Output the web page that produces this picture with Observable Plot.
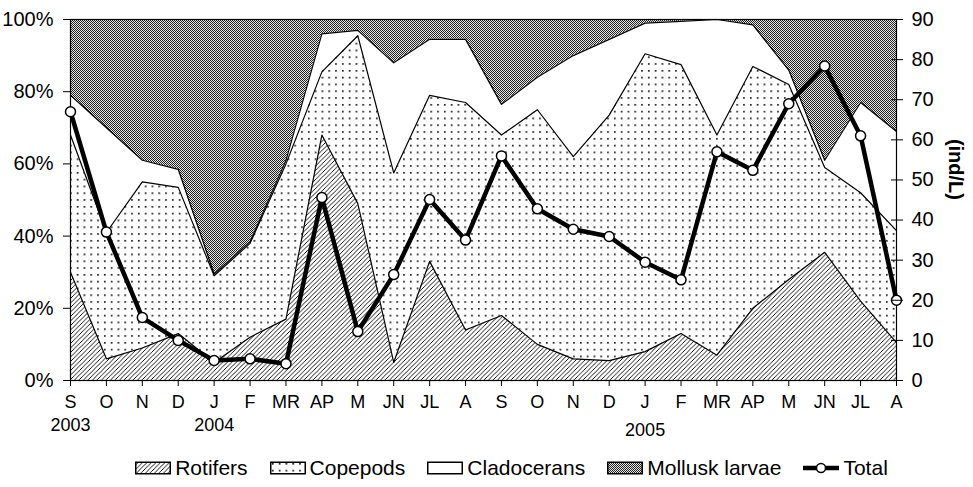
<!DOCTYPE html>
<html><head><meta charset="utf-8">
<script src="https://cdn.jsdelivr.net/npm/d3@7"></script>
<script src="https://cdn.jsdelivr.net/npm/@observablehq/plot@0.6"></script>
<style>
body{margin:0;background:#fff;font-family:"Liberation Sans",Arial,sans-serif;}
#legend{display:flex;justify-content:center;align-items:center;height:39px;font-size:21px;color:#000;padding-left:50px;}
#legend .item{display:flex;align-items:center;margin:0 11px;}
#legend svg{margin-right:4px;}
</style></head><body>
<svg width="0" height="0" style="position:absolute"><defs>
<pattern id="hatch" patternUnits="userSpaceOnUse" width="4.5" height="4.5"><rect width="4.5" height="4.5" fill="#fff"/><path d="M-1,1l2,-2M0,4.5l4.5,-4.5M3.5,5.5l2,-2" stroke="#000" stroke-width="0.9"/></pattern>
<pattern id="dots" patternUnits="userSpaceOnUse" width="6.8" height="6.8"><rect width="6.8" height="6.8" fill="#fff"/><rect x="2" y="2" width="1.6" height="1.6" fill="#000"/></pattern>
<pattern id="checker" patternUnits="userSpaceOnUse" width="2" height="2"><rect width="2" height="2" fill="#e6e6e6"/><rect width="1" height="1" fill="#222"/><rect x="1" y="1" width="1" height="1" fill="#222"/></pattern>
</defs></svg>
<div id="chart"></div>
<div id="legend"></div>
<script>
const months = ["S","O","N","D","J","F","MR","AP","M","JN","JL","A","S","O","N","D","J","F","MR","AP","M","JN","JL","A"];
const yearLabels = ["2003","2004","2005"];
const yearIndex = [0,4,16];
// composition (%) of each group
const rotifers    = [30, 6, 9, 13, 5, 12, 17, 68, 49, 5, 33, 14, 18, 10, 6, 5.5, 8, 13, 7, 20, 28, 35.5, 22, 10.5];
const copepods    = [38, 35, 46, 40.5, 24, 26, 43, 17.5, 46.5, 52.5, 46, 63, 50, 65, 56, 68, 82.5, 74.5, 61, 67, 54, 23.5, 30, 31];
const cladocerans = [11, 29, 6, 5, 0.5, 0.5, 1, 10.5, 1.5, 30.5, 15.5, 17.5, 8.5, 9, 28, 21, 8.5, 12, 32, 11.5, 4, 2, 25, 27.5];
const mollusk     = [21, 30, 39, 41.5, 70.5, 61.5, 39, 4, 3, 12, 5.5, 5.5, 23.5, 16, 10, 5.5, 1, 0.5, 0, 1.5, 14, 39, 23, 31];
// total density (ind/L)
const total = [67, 37, 15.7, 10, 5, 5.4, 4.2, 45.6, 12.2, 26.4, 45.1, 35, 56, 42.8, 37.7, 35.9, 29.5, 25.1, 57, 52.4, 69, 78.4, 61, 20];
const pctTicks = [0,20,40,60,80,100];
const rightTicks = [0,10,20,30,40,50,60,70,80,90];
const totalMax = 90;

const rows = months.map((m, i) => {
  const r = rotifers[i];
  const c = r + copepods[i];
  const l = c + cladocerans[i];
  const t = l + mollusk[i];
  return {i, m, r, c, l, t, total: total[i] * 100 / totalMax};
});
const years = yearLabels.map((label, k) => ({i: yearIndex[k], label}));

const chart = Plot.plot({
  width: 973, height: 448,
  marginTop: 19, marginBottom: 68, marginLeft: 70, marginRight: 77,
  style: {fontFamily: "Liberation Sans, Arial, sans-serif", fontSize: "20px", background: "white", color: "black"},
  x: {domain: [0, 23], label: null},
  y: {domain: [0, 100], label: null},
  marks: [
    Plot.areaY(rows, {x: "i", y1: 0, y2: "r", fill: "url(#hatch)"}),
    Plot.areaY(rows, {x: "i", y1: "r", y2: "c", fill: "url(#dots)"}),
    Plot.areaY(rows, {x: "i", y1: "c", y2: "l", fill: "white"}),
    Plot.areaY(rows, {x: "i", y1: "l", y2: "t", fill: "url(#checker)"}),
    Plot.lineY(rows, {x: "i", y: "r", stroke: "black", strokeWidth: 1.2}),
    Plot.lineY(rows, {x: "i", y: "c", stroke: "black", strokeWidth: 1.2}),
    Plot.lineY(rows, {x: "i", y: "l", stroke: "black", strokeWidth: 1.2}),
    Plot.frame({stroke: "black", strokeWidth: 1.2}),
    Plot.lineY(rows, {x: "i", y: "total", stroke: "black", strokeWidth: 4.5, strokeLinejoin: "round"}),
    Plot.dot(rows, {x: "i", y: "total", r: 5, fill: "white", stroke: "black", strokeWidth: 1.5}),
    Plot.axisX({ticks: d3.range(24), tickFormat: i => months[i], tickSize: 6, tickPadding: 9, fontSize: 18, label: null}),
    Plot.axisY({anchor: "left", ticks: pctTicks, tickFormat: d => d + "%", tickSize: 7, tickPadding: 10, label: null}),
    Plot.axisY({anchor: "right", ticks: rightTicks.map(v => v * 100 / totalMax), tickFormat: d => Math.round(d * totalMax / 100), tickSize: 6, tickPadding: 9, label: null}),
    Plot.axisY({anchor: "right", ticks: rightTicks.map(v => v * 100 / totalMax), tickSize: -6, text: null, label: null}),
    Plot.text(years.slice(0, 2), {x: "i", text: "label", frameAnchor: "bottom", dy: 50, fontSize: 18}),
    Plot.text(years.slice(2), {x: "i", text: "label", frameAnchor: "bottom", dy: 55, fontSize: 18}),
    Plot.text(["(ind/L)"], {frameAnchor: "right", dx: 59, rotate: 90, fontSize: 20, fontWeight: "bold"})
  ]
});
document.getElementById("chart").appendChild(chart);

const legendItems = [
  {label: "Rotifers", fill: "url(#hatch)"},
  {label: "Copepods", fill: "url(#dots)"},
  {label: "Cladocerans", fill: "white"},
  {label: "Mollusk larvae", fill: "url(#checker)"},
  {label: "Total", line: true}
];
const legend = document.getElementById("legend");
for (const it of legendItems) {
  const d = document.createElement("div");
  d.className = "item";
  let sw;
  if (it.line) {
    sw = `<svg width="36" height="14"><line x1="0" y1="7" x2="36" y2="7" stroke="black" stroke-width="4.5"/><circle cx="18" cy="7" r="4.5" fill="white" stroke="black" stroke-width="1.5"/></svg>`;
  } else {
    sw = `<svg width="36" height="14"><rect x="0.75" y="1.25" width="34.5" height="11.5" fill="${it.fill}" stroke="black" stroke-width="1.5"/></svg>`;
  }
  d.innerHTML = sw + `<span>${it.label}</span>`;
  legend.appendChild(d);
}
</script>
</body></html>
